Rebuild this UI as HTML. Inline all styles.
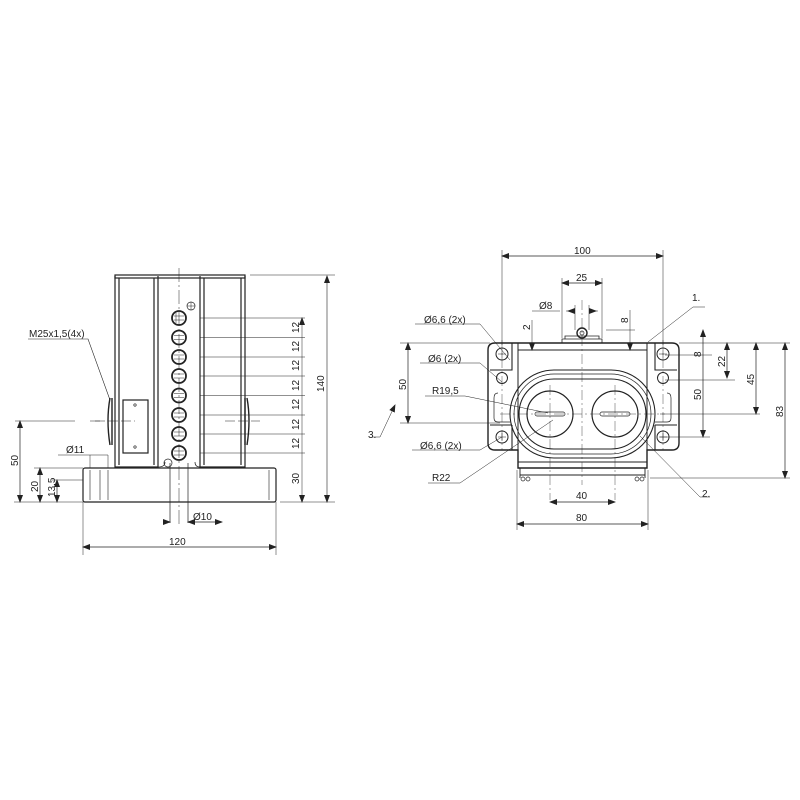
<!DOCTYPE html>
<html><head><style>body{margin:0;background:#fff}svg{display:block}text{font-family:"Liberation Sans",sans-serif;font-size:10px;fill:#222}</style></head><body>
<svg width="800" height="800" viewBox="0 0 800 800" xmlns="http://www.w3.org/2000/svg">
<defs><marker id="a" markerWidth="8" markerHeight="6" refX="7" refY="3" orient="auto-start-reverse" markerUnits="userSpaceOnUse"><path d="M0,0L8,3L0,6z" fill="#222"/></marker></defs>
<g stroke="#222" fill="none" stroke-width="0.7">
<!-- LEFT VIEW -->
<rect x="115" y="275" width="130" height="3" stroke-width="1.2"/>
<path d="M115,276V467H158V276M119,278V465M154,278V465" stroke-width="1.2"/>
<path d="M200,276V467H245V276M204,278V465M241,278V465" stroke-width="1.2"/>
<path d="M158,467Q165,467 165,462M200,467Q195,467 195,462"/>
<rect x="83" y="468" width="193" height="34" rx="2" stroke-width="1.2"/>
<path d="M269,470V500M90,470V500M100,470V500M108,470V500" stroke-width="0.6"/>
<rect x="123" y="400" width="25" height="53" stroke-width="1.2"/>
<circle cx="135" cy="405" r="1.2"/><circle cx="135" cy="447" r="1.2"/>
<path d="M110,398Q106,420 110,445M112,398V445" stroke-width="1.4"/>
<path d="M247,398Q251,420 247,445M245,398V445" stroke-width="1.4"/>
<g stroke-width="1.8">
<circle cx="179" cy="318" r="7"/><circle cx="179" cy="337.5" r="7"/><circle cx="179" cy="357" r="7"/><circle cx="179" cy="376" r="7"/><circle cx="179" cy="395.5" r="7"/><circle cx="179" cy="415" r="7"/><circle cx="179" cy="434" r="7"/><circle cx="179" cy="453" r="7"/>
</g>
<path d="M174,316H184M174,320H184M176,313V323M174,335.5H184M174,339.5H184M174,355H184M174,359H184M174,374H184M174,378H184M174,393.5H184M174,397.5H184M174,413H184M174,417H184M174,432H184M174,436H184M174,451H184M174,455H184" stroke-width="0.5"/>
<circle cx="191" cy="306" r="4"/><path d="M187,306H195M191,302V310" stroke-width="0.5"/>
<circle cx="168" cy="463" r="4"/>
<path d="M179,268V525" stroke-dasharray="14,3,2,3" stroke-width="0.5"/>
<path d="M170,463V523M188,463V523"/>
<path d="M163,522H170M188,522H222" marker-end="url(#a)"/>
<path d="M163,522H170" marker-end="url(#a)"/>
<path d="M188,522H195" marker-start="url(#a)"/>
<!-- right dims -->
<path d="M200,318H305M200,337.5H305M200,357H305M200,376H305M200,395.5H305M200,415H305M200,434H305M200,453H305M250,275H335M280,502H335" stroke-width="0.5"/>
<path d="M302,318V502" marker-start="url(#a)" marker-end="url(#a)" stroke-width="0.5"/>
<path d="M327,276V502" marker-start="url(#a)" marker-end="url(#a)" stroke-width="0.6"/>
<!-- left dims -->
<path d="M15,421H75M90,421H100M14,502H83M34,468H83M52,480H83" stroke-width="0.5"/>
<path d="M20,421V502" marker-start="url(#a)" marker-end="url(#a)"/>
<path d="M40,468V502" marker-start="url(#a)" marker-end="url(#a)"/>
<path d="M57,480V502" marker-start="url(#a)" marker-end="url(#a)"/>
<path d="M58,455H90M90,455V468M108,455V468M108,455H90" stroke-width="0.5"/>
<path d="M83,502V555M276,502V555" stroke-width="0.5"/>
<path d="M83,547H276" marker-start="url(#a)" marker-end="url(#a)"/>
<path d="M28,339H88L110,400" stroke-width="0.6"/>
<path d="M95,421H135M225,421H260" stroke-dasharray="10,3" stroke-width="0.5"/>

<!-- RIGHT VIEW -->
<path d="M488,350Q488,343 495,343H672Q679,343 679,350V443Q679,450 672,450H647V468H518V450H495Q488,450 488,443Z" stroke-width="1.4"/>
<path d="M512,343V370H490M512,425V450M490,425H512M655,343V370H677M655,425V450M655,425H677" stroke-width="1.1"/>
<path d="M518,343V450M647,343V450M518,350H647" stroke-width="1"/>
<path d="M498,393Q494,393 494,398V418Q494,422 498,422H510M667,393Q671,393 671,398V418Q671,422 667,422H655" stroke-width="0.7"/>
<path d="M520,468V478M645,468V478M520,475H645M518,462H647" stroke-width="0.9"/>
<circle cx="523" cy="479" r="2"/><circle cx="528" cy="479" r="2"/><circle cx="637" cy="479" r="2"/><circle cx="642" cy="479" r="2"/>
<rect x="510" y="370" width="145" height="88" rx="44" stroke-width="1.1"/>
<rect x="514" y="374" width="137" height="80" rx="40"/>
<rect x="519" y="379" width="127" height="70" rx="35" stroke-width="1.1"/>
<circle cx="550" cy="414" r="23" stroke-width="1.2"/><circle cx="615" cy="414" r="23" stroke-width="1.2"/>
<rect x="535" y="412" width="30" height="4" rx="2"/><rect x="600" y="412" width="30" height="4" rx="2"/>
<g stroke-width="1"><circle cx="502" cy="354" r="6"/><circle cx="502" cy="378" r="5.5"/><circle cx="502" cy="437" r="6"/><circle cx="663" cy="354" r="6"/><circle cx="663" cy="378" r="5.5"/><circle cx="663" cy="437" r="6"/></g>
<path d="M498,354H506M502,350V358M498,437H506M502,433V441M659,354H667M663,350V358M659,437H667M663,433V441" stroke-width="0.5"/>
<path d="M562,343V339H602V343M565,339V336H599V339" stroke-width="0.8"/>
<circle cx="582" cy="333" r="5" stroke-width="1.4"/><circle cx="582" cy="333" r="2"/>
<path d="M582,300V485M550,385V500M615,385V500M500,414H665M502,340V450M663,340V450" stroke-dasharray="10,3,2,3" stroke-width="0.4"/>
<!-- dims -->
<path d="M502,250V345M663,250V345" stroke-width="0.5"/>
<path d="M502,256H663" marker-start="url(#a)" marker-end="url(#a)"/>
<path d="M562,278V338M602,278V338" stroke-width="0.5"/>
<path d="M562,283H602" marker-start="url(#a)" marker-end="url(#a)"/>
<path d="M575,305V330M589,305V330M532,311H560" stroke-width="0.5"/>
<path d="M566,311H575M589,311H598" stroke-width="0.6"/>
<path d="M575,311H568" marker-end="url(#a)"/><path d="M589,311H596" marker-end="url(#a)"/>
<path d="M532,320V350" marker-end="url(#a)" stroke-width="0.5"/>
<path d="M630,310V350" marker-end="url(#a)" stroke-width="0.5"/>
<path d="M606,330H635" stroke-width="0.5"/>
<path d="M400,343H490M400,423H500M679,343H790M665,355H712M665,380H735M660,414H760M660,437H710M650,478H790" stroke-width="0.5"/>
<path d="M408,343V423" marker-start="url(#a)" marker-end="url(#a)"/>
<path d="M703,330V437" marker-start="url(#a)" marker-end="url(#a)"/>
<path d="M727,343V378" marker-start="url(#a)" marker-end="url(#a)"/>
<path d="M756,343V414" marker-start="url(#a)" marker-end="url(#a)"/>
<path d="M785,343V478" marker-start="url(#a)" marker-end="url(#a)"/>
<path d="M517,470V530M648,470V530" stroke-width="0.5"/>
<path d="M550,502H615" marker-start="url(#a)" marker-end="url(#a)"/>
<path d="M517,524H648" marker-start="url(#a)" marker-end="url(#a)"/>
<!-- leaders -->
<path d="M415,324H480L510,360" stroke-width="0.5"/>
<path d="M420,363H480L502,382" stroke-width="0.5"/>
<path d="M425,396H465L548,413" stroke-width="0.5"/>
<path d="M412,450H480L502,437" stroke-width="0.5"/>
<path d="M428,483H460L553,420" stroke-width="0.5"/>
<path d="M705,307H693L648,342" stroke-width="0.5"/>
<path d="M710,497H700L640,436" stroke-width="0.5"/>
<path d="M372,437H380L395,405" marker-end="url(#a)" stroke-width="0.5"/>
</g>
<g>
<text x="29" y="337">M25x1,5(4x)</text>
<text x="66" y="453">Ø11</text>
<text x="193" y="520">Ø10</text>
<text x="169" y="545">120</text>
<text transform="translate(18,466) rotate(-90)">50</text>
<text transform="translate(38,492) rotate(-90)">20</text>
<text transform="translate(55,497) rotate(-90)">13,5</text>
<g font-size="10"><text transform="translate(299,333) rotate(-90)">12</text><text transform="translate(299,352) rotate(-90)">12</text><text transform="translate(299,371) rotate(-90)">12</text><text transform="translate(299,391) rotate(-90)">12</text><text transform="translate(299,410) rotate(-90)">12</text><text transform="translate(299,430) rotate(-90)">12</text><text transform="translate(299,449) rotate(-90)">12</text></g>
<text transform="translate(299,484) rotate(-90)">30</text>
<text transform="translate(324,392) rotate(-90)">140</text>
<text x="574" y="254">100</text>
<text x="576" y="281">25</text>
<text x="539" y="309">Ø8</text>
<text transform="translate(530,330) rotate(-90)">2</text>
<text transform="translate(628,323) rotate(-90)">8</text>
<text x="424" y="323">Ø6,6 (2x)</text>
<text x="428" y="362">Ø6 (2x)</text>
<text x="432" y="394">R19,5</text>
<text x="420" y="449">Ø6,6 (2x)</text>
<text x="432" y="481">R22</text>
<text transform="translate(406,390) rotate(-90)">50</text>
<text x="368" y="438">3.</text>
<text x="692" y="301">1.</text>
<text x="702" y="497">2.</text>
<text transform="translate(701,357) rotate(-90)">8</text>
<text transform="translate(725,367) rotate(-90)">22</text>
<text transform="translate(754,385) rotate(-90)">45</text>
<text transform="translate(701,400) rotate(-90)">50</text>
<text transform="translate(783,417) rotate(-90)">83</text>
<text x="576" y="499">40</text>
<text x="576" y="521">80</text>
</g>
</svg>
</body></html>
